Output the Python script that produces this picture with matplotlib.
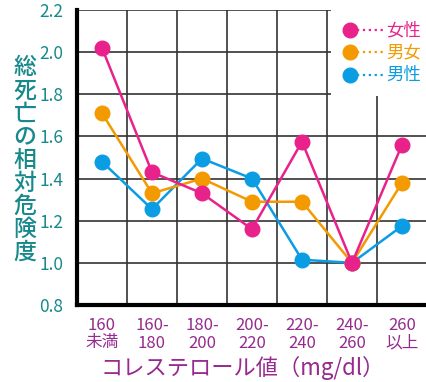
import numpy as np
import matplotlib.pyplot as plt
from matplotlib.patches import Rectangle

plt.rcParams['font.family'] = ['Noto Sans CJK JP', 'DejaVu Sans']

# data
categories = ['160\n未満', '160-\n180', '180-\n200', '200-\n220', '220-\n240', '240-\n260', '260\n以上']
women = [2.02, 1.43, 1.33, 1.16, 1.575, 1.00, 1.56]
both = [1.71, 1.33, 1.40, 1.29, 1.29, 1.00, 1.38]
men = [1.48, 1.255, 1.495, 1.40, 1.015, 1.00, 1.175]
series_names = ['女性', '男女', '男性']
colors = ['#E8228A', '#F39A00', '#0B9DE3']

teal = '#17898C'
purple = '#962A8F'

fig = plt.figure(figsize=(4.27, 3.82), dpi=100)
ax = fig.add_axes([77/427, 77/382, 350/427, 295/382])

x = np.arange(len(categories))
# draw order: men, both, women on top
for vals, c in [(men, colors[2]), (both, colors[1]), (women, colors[0])]:
    ax.plot(x, vals, color=c, lw=1.8, marker='o', markersize=10.5, zorder=3)

ax.set_xlim(-0.5, 6.5)
ax.set_ylim(0.8, 2.2)
ax.set_yticks(np.arange(0.8, 2.21, 0.2))
ax.set_yticklabels([f'{v:.1f}' for v in np.arange(0.8, 2.21, 0.2)])
ax.set_xticks(x)
ax.set_xticklabels(categories, linespacing=1.0)
ax.set_xticks(x[:-1] + 0.5, minor=True)
ax.tick_params(axis='both', which='both', length=0)
ax.tick_params(axis='y', colors=teal, labelsize=12.5, pad=10)
ax.tick_params(axis='x', colors=purple, labelsize=12, pad=9)

ax.grid(True, axis='y', which='major', color='#333333', lw=1.2, zorder=1)
ax.grid(True, axis='x', which='minor', color='#333333', lw=1.2, zorder=1)
ax.grid(False, axis='x', which='major')

for s in ['top', 'right']:
    ax.spines[s].set_visible(False)
ax.spines['left'].set_linewidth(3)
ax.spines['bottom'].set_linewidth(3)
ax.spines['left'].set_zorder(4)
ax.spines['bottom'].set_zorder(4)

# legend box (hides grid)
ax.add_patch(Rectangle((0.725, 0.71), 0.3, 0.3, transform=ax.transAxes,
                       facecolor='white', edgecolor='none', zorder=2, clip_on=False))
for i, (name, c) in enumerate(zip(series_names, colors)):
    yy = 0.932 - i * 0.076
    ax.plot([0.78], [yy], marker='o', markersize=10.5, color=c,
            transform=ax.transAxes, zorder=3, clip_on=False)
    ax.plot([0.8, 0.88], [yy, yy], ls=':', lw=1.6, color=c,
            transform=ax.transAxes, zorder=3, clip_on=False)
    ax.text(0.883, yy, name, color=c, fontsize=12.5, va='center', ha='left',
            transform=ax.transAxes, zorder=3)

fig.text(243/427, 14/382, 'コレステロール値（mg/dl）', color=purple,
         fontsize=16, ha='center', va='center')
fig.text(25/427, (382 - 160)/382, '\n'.join('総死亡の相対危険度'), color=teal,
         fontsize=16.5, ha='center', va='center', linespacing=1.0, fontweight='medium')

fig.savefig('out.png', dpi=100)
